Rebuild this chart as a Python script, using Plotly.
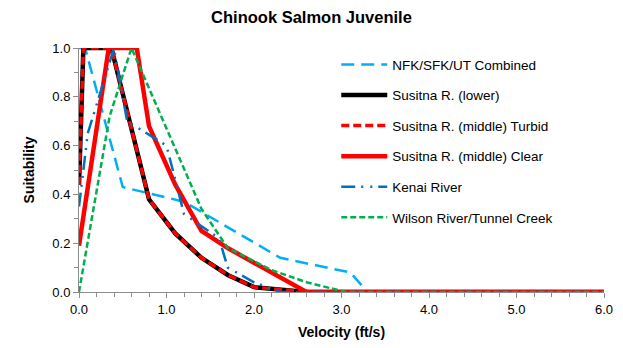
import plotly.graph_objects as go

# ---- data (velocity ft/s, suitability) ----
nfk_x = [0.0, 0.07, 0.5, 1.2, 2.3, 3.1, 3.3, 6.0]
nfk_y = [1.0, 1.0, 0.43, 0.37, 0.14, 0.08, 0.0, 0.0]

sus_lower_x = [0.0, 0.05, 0.37, 0.8, 1.1, 1.4, 1.7, 2.0, 2.6, 6.0]
sus_lower_y = [0.44, 1.0, 1.0, 0.38, 0.24, 0.14, 0.07, 0.02, 0.0, 0.0]

sus_turbid_x = [0.0, 0.05, 0.37, 0.8, 1.1, 1.4, 1.7, 2.0, 2.6, 6.0]
sus_turbid_y = [0.44, 1.0, 1.0, 0.38, 0.24, 0.14, 0.07, 0.02, 0.0, 0.0]

sus_clear_x = [0.0, 0.34, 0.66, 0.8, 1.1, 1.4, 1.7, 2.6, 6.0]
sus_clear_y = [0.19, 1.0, 1.0, 0.68, 0.44, 0.25, 0.18, 0.0, 0.0]

kenai_x = [0.0, 0.1, 0.4, 0.55, 1.0, 1.2, 1.6, 1.7, 2.0, 2.3, 6.0]
kenai_y = [0.35, 0.65, 1.0, 0.7, 0.6, 0.32, 0.22, 0.1, 0.04, 0.0, 0.0]

wilson_x = [0.0, 0.35, 0.6, 1.4, 1.7, 2.2, 2.6, 3.05, 6.0]
wilson_y = [0.0, 0.72, 1.0, 0.34, 0.18, 0.09, 0.04, 0.0, 0.0]

title_text = "Chinook Salmon Juvenile"
x_title = "Velocity (ft/s)"
y_title = "Suitability"

series = [
    ("NFK/SFK/UT Combined", nfk_x, nfk_y, "#00B0F0", 2.5, "13px,7px"),
    ("Susitna R. (lower)", sus_lower_x, sus_lower_y, "#000000", 4.5, "solid"),
    ("Susitna R. (middle) Turbid", sus_turbid_x, sus_turbid_y, "#FF0000", 3.5, "8px,4px"),
    ("Susitna R. (middle) Clear", sus_clear_x, sus_clear_y, "#FF0000", 4.5, "solid"),
    ("Kenai River", kenai_x, kenai_y, "#0070C0", 2.5, "14px,6px,2px,7px,2px,6px"),
    ("Wilson River/Tunnel Creek", wilson_x, wilson_y, "#00B050", 2.5, "6px,3px"),
]

FONT = "Liberation Sans, Arial, sans-serif"
AX = "#8c8c8c"

fig = go.Figure()
for i, (name, xs, ys, color, w, dash) in enumerate(series):
    fig.add_trace(go.Scatter(
        x=xs, y=ys, mode="lines", name=name, legendgroup=f"g{i}",
        line=dict(color=color, width=w, dash=dash),
    ))

fig.update_layout(
    width=623, height=348,
    margin=dict(l=79, r=19, t=48, b=56),
    paper_bgcolor="white", plot_bgcolor="white",
    font=dict(family=FONT, size=12, color="#000000"),
    title=dict(text=f"<b>{title_text}</b>", x=0.5, xanchor="center",
               y=1 - 17 / 348, yanchor="middle",
               font=dict(family=FONT, size=16.5, color="#000000")),
    showlegend=True,
    legend=dict(x=0.49, y=0.995, xanchor="left", yanchor="top",
                bgcolor="rgba(0,0,0,0)", font=dict(family=FONT, size=13.5),
                itemwidth=46, tracegroupgap=10),
)

fig.update_xaxes(
    range=[0, 6], tick0=0, dtick=1, tickformat=".1f",
    showgrid=False, zeroline=False,
    showline=True, linecolor=AX, linewidth=1,
    ticks="outside", ticklen=5, tickcolor=AX,
    minor=dict(dtick=0.2, ticks="outside", ticklen=4, tickcolor=AX, showgrid=False),
    tickfont=dict(family=FONT, size=13),
    title=dict(text=f"<b>{x_title}</b>", font=dict(family=FONT, size=14), standoff=11),
    automargin=False,
)
fig.update_yaxes(
    range=[0, 1], tick0=0, dtick=0.2, tickformat=".1f",
    showgrid=False, zeroline=False,
    showline=True, linecolor=AX, linewidth=1,
    ticks="outside", ticklen=5, tickcolor=AX,
    minor=dict(dtick=0.1, ticks="outside", ticklen=4, tickcolor=AX, showgrid=False),
    tickfont=dict(family=FONT, size=13),
    title=dict(text=f"<b>{y_title}</b>", font=dict(family=FONT, size=14), standoff=14),
    automargin=False,
)

fig.write_html("out.html")
